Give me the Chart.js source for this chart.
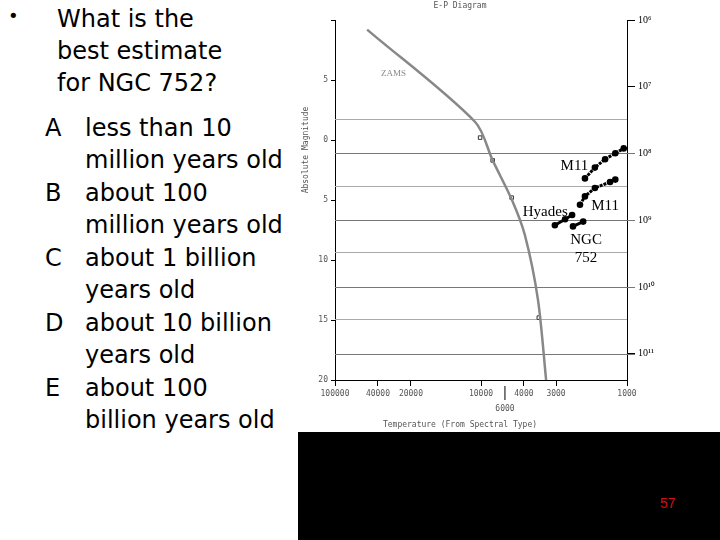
<!DOCTYPE html><html><head><meta charset="utf-8">
<script src="https://cdn.jsdelivr.net/npm/chart.js@4"></script>
<style>
body{margin:0;width:720px;height:540px;background:#fff;position:relative;overflow:hidden;font-family:"DejaVu Sans",sans-serif}
#q{position:absolute;left:0;top:0;width:300px;font-size:24px;color:#000;white-space:nowrap}
#band{position:absolute;left:298px;top:432px;width:422px;height:108px;background:#000}
#pg{position:absolute;left:660px;top:495px;color:#d01010;font-family:Arial,"Liberation Sans";font-size:14px}
#w{position:absolute;left:300px;top:0;width:420px;height:432px}
.o{position:absolute;left:45px}
.o span{display:inline-block;width:40px}
.i{position:absolute;left:85px}
</style></head><body>
<div id="q">
<div style="position:absolute;left:8px;top:5px;font-size:18px">•</div>
<div style="position:absolute;left:57px;top:3px;line-height:32px">What is the<br>best estimate<br>for NGC 752?</div>
<div class="o" style="top:114px"><span>A</span>less than 10</div><div class="i" style="top:146px">million years old</div>
<div class="o" style="top:179px"><span>B</span>about 100</div><div class="i" style="top:211px">million years old</div>
<div class="o" style="top:244px"><span>C</span>about 1 billion</div><div class="i" style="top:276px">years old</div>
<div class="o" style="top:309px"><span>D</span>about 10 billion</div><div class="i" style="top:341px">years old</div>
<div class="o" style="top:374px"><span>E</span>about 100</div><div class="i" style="top:406px">billion years old</div>
</div>
<div id="w"><canvas id="c" width="420" height="432"></canvas></div>
<div id="band"></div><div id="pg">57</div>
<script>
const zamsX=[11,48,54,60.6,65,69.5,72.3];
const zamsY=[-9.2,-1.5,1.7,5,7.9,13.3,20];
const m11aX=[85.6,89,92.5,96,98.9];
const m11aY=[3.2,2.3,1.6,1.1,0.7];
const m11bX=[83.9,85.6,89,94.2,96];
const m11bY=[5.4,4.7,4.0,3.5,3.3];
const hyaX=[75.3,78.8,81.2];
const hyaY=[7.1,6.6,6.25];
const ngcX=[81.5,85];
const ngcY=[7.2,6.8];
const sqX=[49.7,54,60.5,69.8];
const sqY=[-0.2,1.7,4.8,14.8];
const ageVals=[-10,-4.5,1.1,6.7,12.25,17.8];
const ageLabels=['10⁶','10⁷','10⁸','10⁹','10¹⁰','10¹¹'];
const lightLines=[-1.75,3.85,9.3,14.9];
const xTickPos=[0,14.7,26,50,64.7,75.7,100];
const xTickLabels=['100000','40000','20000','10000','4000','3000','1000'];
const pts=(xs,ys)=>xs.map((x,i)=>({x:x,y:ys[i]}));
const labels=[['ZAMS',20,-5.5,'#888','9px serif'],['M11',82,2.2,'#000','15px "Liberation Serif"'],['M11',92.5,5.5,'#000','15px "Liberation Serif"'],['Hyades',72,6.0,'#000','15px "Liberation Serif"'],['NGC',86,8.3,'#000','15px "Liberation Serif"'],['752',86,9.8,'#000','15px "Liberation Serif"']];
const deco={id:'deco',beforeDatasetsDraw(ch){const c=ch.ctx,a=ch.chartArea,y=ch.scales.y;c.save();
 c.lineWidth=1;c.strokeStyle='#aaa';lightLines.forEach(v=>{const p=Math.round(y.getPixelForValue(v))+.5;c.beginPath();c.moveTo(a.left,p);c.lineTo(a.right,p);c.stroke();});
 c.strokeStyle='#777';ageVals.slice(2).forEach(v=>{const p=Math.round(y.getPixelForValue(v))+.5;c.beginPath();c.moveTo(a.left,p);c.lineTo(a.right+8,p);c.stroke();});
 c.restore();},
 afterDatasetsDraw(ch){const c=ch.ctx,x=ch.scales.x,y=ch.scales.y,a=ch.chartArea;c.save();c.textAlign='center';c.textBaseline='middle';
 labels.forEach(l=>{c.fillStyle=l[3];c.font=l[4];c.fillText(l[0],x.getPixelForValue(l[1]),y.getPixelForValue(l[2]));});
 c.fillStyle='#555';c.font='8px "DejaVu Sans Mono"';c.fillText('E-P Diagram',160,6);
 c.fillText('Temperature (From Spectral Type)',160,425);
 const px=x.getPixelForValue(58.2);c.fillText('6000',px,409);c.strokeStyle='#000';c.beginPath();c.moveTo(px,a.bottom+6);c.lineTo(px,a.bottom+20);c.stroke();
 c.translate(6,150);c.rotate(-Math.PI/2);c.fillText('Absolute Magnitude',0,0);c.restore();}};
const cl={showLine:true,borderColor:'#000',borderWidth:3,pointRadius:1.8,pointBackgroundColor:'#000',pointBorderColor:'#000'};
new Chart(document.getElementById('c'),{type:'scatter',
data:{datasets:[
{data:pts(zamsX,zamsY),showLine:true,borderColor:'#888',borderWidth:2.5,pointRadius:0,tension:0.3},
{data:pts(sqX,sqY),pointStyle:'rect',pointRadius:2.5,pointBorderColor:'#333',pointBackgroundColor:'#fff',borderWidth:1},
Object.assign({data:pts(m11aX,m11aY),borderDash:[3,1]},cl),
Object.assign({data:pts(m11bX,m11bY),borderDash:[3,1]},cl),
Object.assign({data:pts(hyaX,hyaY)},cl),
Object.assign({data:pts(ngcX,ngcY)},cl)]},
options:{responsive:false,animation:false,layout:{padding:{top:20}},
plugins:{legend:{display:false},tooltip:{enabled:false}},
scales:{
x:{type:'linear',min:0,max:100,afterFit(s){s.height=52;},afterBuildTicks(s){s.ticks=xTickPos.map(v=>({value:v}));},
 grid:{drawOnChartArea:false,color:'#000',tickLength:6},border:{color:'#000'},
 ticks:{autoSkip:false,maxRotation:0,color:'#555',font:{size:8,family:'DejaVu Sans Mono'},callback:(v)=>xTickLabels[xTickPos.indexOf(v)]}},
y:{type:'linear',reverse:true,min:-10,max:20,afterFit(s){s.width=35;},
 grid:{drawOnChartArea:false,color:'#000',tickLength:4},border:{color:'#000'},
 ticks:{stepSize:5,color:'#555',font:{size:8,family:'DejaVu Sans Mono'},callback:v=>v===-10?'':String(Math.abs(v))}},
y2:{type:'linear',position:'right',reverse:true,min:-10,max:20,afterFit(s){s.width=93;},
 afterBuildTicks(s){s.ticks=ageVals.map(v=>({value:v}));},
 grid:{drawOnChartArea:false,color:'#000',tickLength:8},border:{color:'#000'},
 ticks:{autoSkip:false,color:'#000',font:{size:10,family:'Liberation Serif'},callback:(v)=>ageLabels[ageVals.indexOf(v)]}}}},
plugins:[deco]});
</script></body></html>
